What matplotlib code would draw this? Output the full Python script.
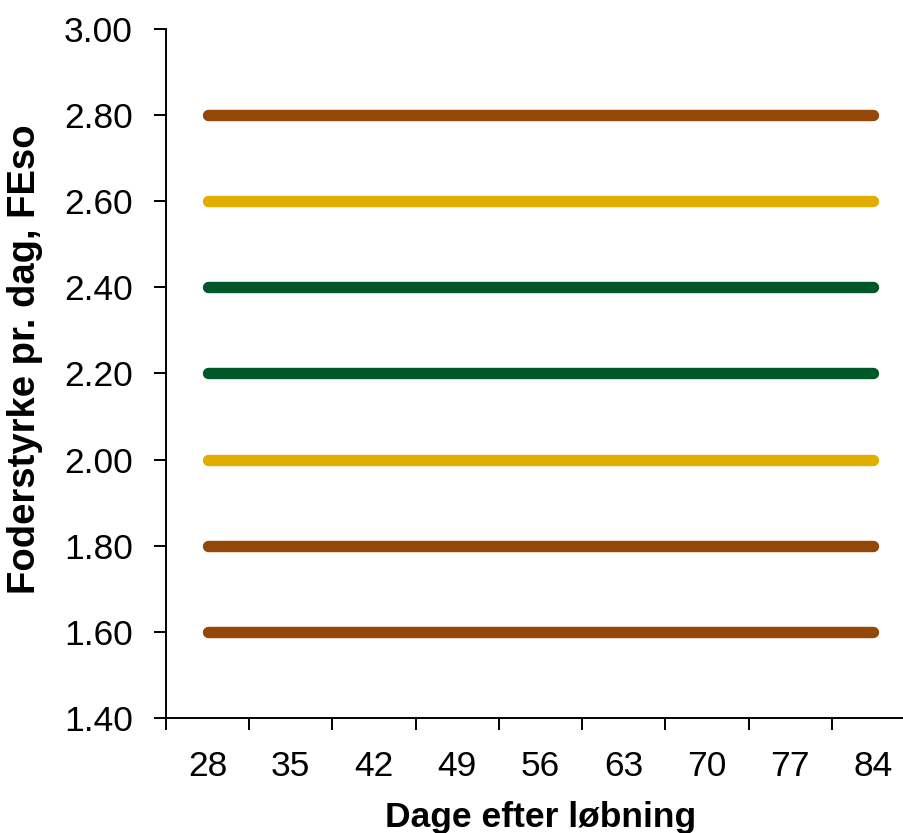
import numpy as np
import matplotlib
matplotlib.use("Agg")
import matplotlib.pyplot as plt

# Days after mating (category axis)
days = [28, 35, 42, 49, 56, 63, 70, 77, 84]

# Feed level per day, FEso, one flat line per series
series_values = [1.60, 1.80, 2.00, 2.20, 2.40, 2.60, 2.80]
series_colors = ["#944706", "#944706", "#E3AD00", "#00582A",
                 "#00582A", "#E3AD00", "#944706"]

y_ticks = [1.40, 1.60, 1.80, 2.00, 2.20, 2.40, 2.60, 2.80, 3.00]

plt.rcParams["font.family"] = ["Liberation Sans", "DejaVu Sans"]

fig = plt.figure(figsize=(9.04, 8.33), dpi=100)
ax = fig.add_axes([166 / 904, 115 / 833, 749 / 904, 689 / 833])

x = np.arange(len(days))
for val, col in zip(series_values, series_colors):
    ax.plot(x, [val] * len(days), color=col, lw=8.2,
            solid_capstyle="round", clip_on=False)

ax.set_xlim(-0.5, len(days) - 0.5)
ax.set_ylim(1.40, 3.00)

# Excel-style category axis: ticks between categories, labels centered
ax.set_xticks(np.arange(len(days) + 1) - 0.5)
ax.set_xticklabels([])
ax.set_xticks(x, minor=True)
ax.set_xticklabels([str(d) for d in days], minor=True, fontsize=25.5)
ax.tick_params(axis="x", which="major", direction="out", length=8.4, width=1.4)
ax.tick_params(axis="x", which="minor", length=0, pad=23)

ax.set_yticks(y_ticks)
ax.set_yticklabels([f"{v:.2f}" for v in y_ticks], fontsize=25.5)
ax.tick_params(axis="y", direction="out", length=8.4, width=1.4, pad=15.5)

for side in ["top", "right"]:
    ax.spines[side].set_visible(False)
for side in ["left", "bottom"]:
    ax.spines[side].set_linewidth(1.4)

ax.set_xlabel("Dage efter løbning", fontsize=25.5, fontweight="bold", labelpad=13)
ax.set_ylabel("Foderstyrke pr. dag, FEso", fontsize=27.5, fontweight="bold")
ax.yaxis.set_label_coords(-0.164, 0.521)

fig.savefig("out.png", dpi=100)
